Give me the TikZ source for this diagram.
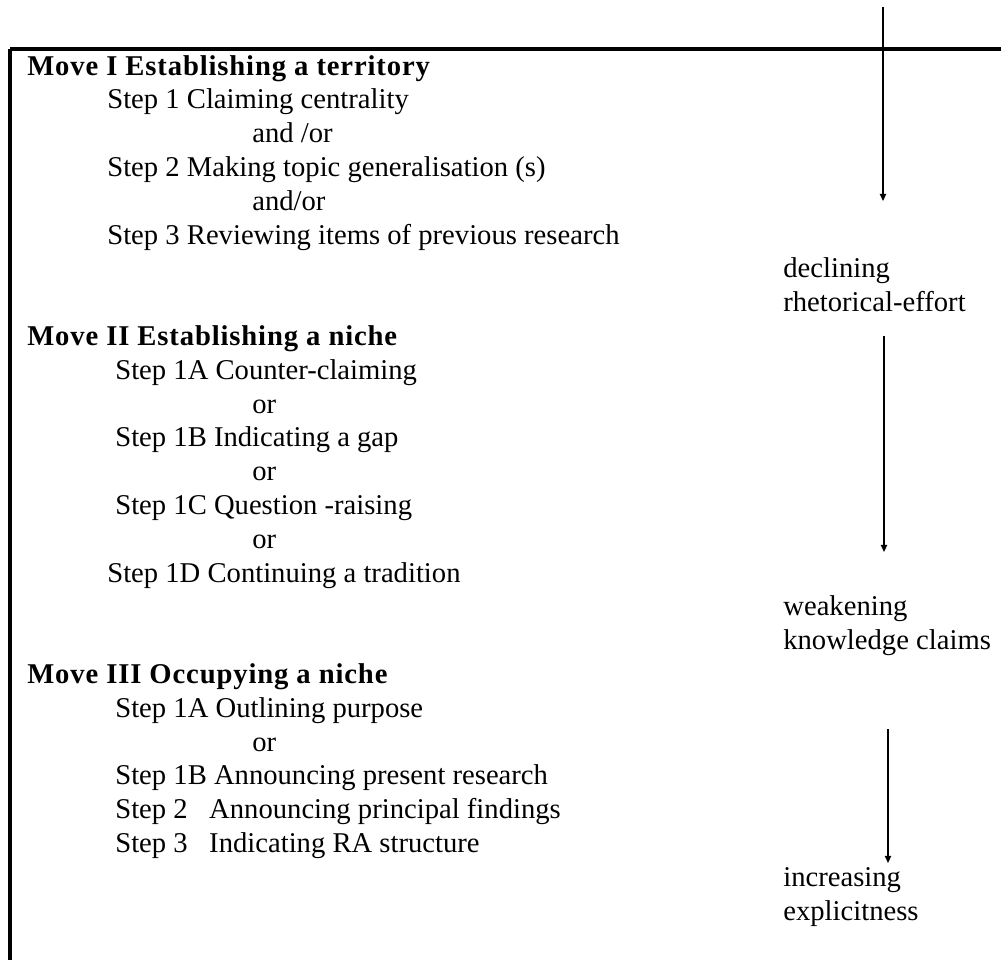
\documentclass[tikz,border=0pt]{standalone}
\usepackage{fontspec}
\setmainfont{Liberation Serif}
\newfontfamily\movefont[LetterSpace=3]{Liberation Serif}
\usetikzlibrary{arrows.meta}

\begin{document}
\begin{tikzpicture}[
  x=0.02cm, y=-0.02cm,
  font=\fontsize{16.3}{19}\selectfont,
  >={Triangle[length=4pt,width=3.5pt]},
  txt/.style={anchor=base west, inner sep=0pt},
  move/.style={txt, font=\fontsize{16.3}{19}\movefont\bfseries},
  rule/.style={line width=1.9pt},
  trend/.style={->, line width=0.9pt},
]
\useasboundingbox (0,0) rectangle (1001,960);

\def\mx{27}  \def\sx{107}  \def\tx{115}  \def\ox{252}  \def\rx{783}
\def\ls{33.8}

% frame
\coordinate (tl) at (10,49);
\coordinate (tr) at (1001,49);
\coordinate (bl) at (10,960);
\draw[rule] (tl) -- (tr);
\draw[rule] (tl) -- (bl);

% move I
\node[move] (m1)  at (\mx,75) {Move I Establishing a territory};
\node[txt]  (m1a) at (\sx,75+1*\ls) {Step 1 Claiming centrality};
\node[txt]  (o1)  at (\ox,75+2*\ls) {and /or};
\node[txt]  (m1b) at (\sx,75+3*\ls) {Step 2 Making topic generalisation (s)};
\node[txt]  (o2)  at (\ox,75+4*\ls) {and/or};
\node[txt]  (m1c) at (\sx,75+5*\ls) {Step 3 Reviewing items of previous research};

% move II
\node[move] (m2)  at (\mx,75+8*\ls) {Move II Establishing a niche};
\node[txt]  (m2a) at (\tx,75+9*\ls) {Step 1A Counter-claiming};
\node[txt]  (o3)  at (\ox,75+10*\ls) {or};
\node[txt]  (m2b) at (\tx,75+11*\ls) {Step 1B Indicating a gap};
\node[txt]  (o4)  at (\ox,75+12*\ls) {or};
\node[txt]  (m2c) at (\tx,75+13*\ls) {Step 1C Question -raising};
\node[txt]  (o5)  at (\ox,75+14*\ls) {or};
\node[txt]  (m2d) at (\sx,75+15*\ls) {Step 1D Continuing a tradition};

% move III
\node[move] (m3)  at (\mx,75+18*\ls) {Move III Occupying a niche};
\node[txt]  (m3a) at (\tx,75+19*\ls) {Step 1A Outlining purpose};
\node[txt]  (o6)  at (\ox,75+20*\ls) {or};
\node[txt]  (m3b) at (\tx,75+21*\ls) {Step 1B Announcing present research};
\node[txt]  (m3c) at (\tx,75+22*\ls) {Step 2\ \ \ Announcing principal findings};
\node[txt]  (m3d) at (\tx,75+23*\ls) {Step 3\ \ \ Indicating RA structure};

% trends on the right
\node[txt] (d1) at (\rx,75+6*\ls) {declining};
\node[txt] (d2) at (\rx,75+7*\ls) {rhetorical-effort};
\node[txt] (w1) at (\rx,75+16*\ls) {weakening};
\node[txt] (w2) at (\rx,75+17*\ls) {knowledge claims};
\node[txt] (i1) at (\rx,75+24*\ls) {increasing};
\node[txt] (i2) at (\rx,75+25*\ls) {explicitness};

\coordinate (a1) at (883,7);   \coordinate (b1) at (883,201);
\coordinate (a2) at (884,336); \coordinate (b2) at (884,552);
\coordinate (a3) at (888,729); \coordinate (b3) at (888,863);
\draw[trend] (a1) -- (b1);
\draw[trend] (a2) -- (b2);
\draw[trend] (a3) -- (b3);

\end{tikzpicture}
\end{document}
